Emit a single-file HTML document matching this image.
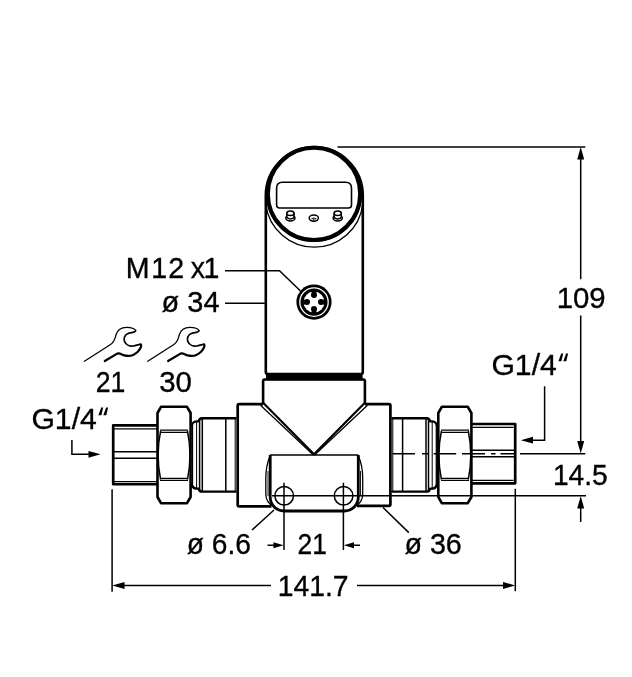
<!DOCTYPE html>
<html>
<head>
<meta charset="utf-8">
<title>Dimension drawing</title>
<style>
  html, body { margin: 0; padding: 0; background: #ffffff; }
  body { width: 632px; height: 677px; overflow: hidden; }
  svg { display: block; filter: grayscale(1); }
  text { font-family: "Liberation Sans", sans-serif; fill: #000; }
</style>
</head>
<body>
<svg width="632" height="677" viewBox="0 0 632 677">
<rect x="0" y="0" width="632" height="677" fill="#ffffff"/>

<!-- ===== SENSOR BODY ===== -->
<g id="sensor" fill="none" stroke="#000" stroke-linecap="butt" stroke-linejoin="round">
  <!-- body sides -->
  <path d="M265.8 195.6 V372 Q265.8 374 267.8 374 H360.8 Q362.8 374 362.8 372 V195.6 A48.5 48.5 0 0 0 265.8 195.6" stroke-width="2.6"/>
  <!-- thick band at body bottom -->
  <rect x="266" y="373.2" width="96.6" height="7" fill="#000" stroke="none"/>
  <!-- lower thin arcs of head -->
  <path d="M265.8 204.5 A48.9 48.9 0 0 0 362.8 204.5" stroke-width="1.4"/>
  <!-- head ring -->
  <circle cx="314" cy="193.9" r="46.1" stroke-width="4"/>
  <path d="M266.7 197 A47.4 47.4 0 0 0 361.3 197" stroke-width="1.4"/>
  <!-- display -->
  <path d="M276.6 188 Q276.6 182.2 282.6 182.2 H345.5 Q351.5 182.2 351.5 188 V205 Q351.5 208 348.5 208 H279.6 Q276.6 208 276.6 205 Z" stroke-width="1.6"/>
  <!-- buttons -->
  <g stroke-width="1.5">
    <ellipse cx="290.4" cy="217.9" rx="4.6" ry="3" fill="#fff"/>
    <path d="M286.8 213.2 V216.6 A3.6 2.3 0 0 0 294 216.6 V213.2 Z" fill="#fff"/>
    <ellipse cx="290.4" cy="213.2" rx="3.6" ry="2.3" fill="#fff"/>
    <ellipse cx="337.7" cy="217.9" rx="4.6" ry="3" fill="#fff"/>
    <path d="M334.1 213.2 V216.6 A3.6 2.3 0 0 0 341.3 216.6 V213.2 Z" fill="#fff"/>
    <ellipse cx="337.7" cy="213.2" rx="3.6" ry="2.3" fill="#fff"/>
    <ellipse cx="313.8" cy="218.1" rx="4.6" ry="3.1"/>
    <path d="M311.6 219.3 A2.3 1.9 0 0 1 316 219.3" stroke-width="1.1"/>
  </g>
  <circle cx="313.8" cy="219.9" r="0.8" fill="#000" stroke="none"/>
  <!-- M12 connector -->
  <circle cx="314" cy="302.1" r="17.6" fill="#000" stroke="none"/>
  <circle cx="314" cy="302.1" r="14.2" stroke="#fff" stroke-width="1.3"/>
  <circle cx="314" cy="302.1" r="10.5" fill="#fff" stroke="none"/>
  <g fill="#000" stroke="none">
    <circle cx="314" cy="295.1" r="3"/>
    <circle cx="314" cy="309.1" r="3"/>
    <circle cx="307" cy="302.1" r="3"/>
    <circle cx="321" cy="302.1" r="3"/>
    <rect x="311.6" y="291" width="4.8" height="2.4"/>
    <rect x="311.6" y="310.8" width="4.8" height="2.4"/>
    <rect x="303" y="299.7" width="2.4" height="4.8"/>
    <rect x="322.6" y="299.7" width="2.4" height="4.8"/>
  </g>
</g>

<!-- ===== COLLAR + BLOCK ===== -->
<g id="block" fill="none" stroke="#000" stroke-linejoin="round">
  <path d="M263.1 403 V381.2 Q263.1 379.5 264.8 379.5 H363.2 Q364.9 379.5 364.9 381.2 V403" stroke-width="2.6"/>
  <path d="M263.1 404.1 H239.2 Q237.7 404.1 237.7 405.6 V504.8 Q237.7 506.3 239.2 506.3 H271.5" stroke-width="2.7"/>
  <path d="M364.9 404.1 H388.9 Q390.4 404.1 390.4 405.6 V504.3 Q390.4 505.8 388.9 505.8 H357" stroke-width="2.7"/>
  <path d="M263.1 402.8 L314 454.3 L364.9 402.8" stroke-width="2.2"/>
  <path d="M260.5 405.3 L313.4 455 M367.5 405.3 L314.6 455" stroke-width="1.3"/>
</g>

<!-- ===== BRACKET ===== -->
<g id="bracket" fill="none" stroke="#000" stroke-linejoin="round">
  <path d="M270 455 H358.3" stroke-width="1.6"/>
  <path d="M270.2 455 V497 A14 14 0 0 0 284.2 511 H344.3 A14 14 0 0 0 358.3 497 V455" stroke-width="2.8"/>
  <path d="M270.2 455.5 Q265.8 466 265.8 478 V494 Q265.8 503 274.5 507.2" stroke-width="1.3"/>
  <path d="M268 471 V496" stroke-width="0.9"/>
  <path d="M358.3 455.5 Q362.7 466 362.7 478 V494 Q362.7 503 354 507.2" stroke-width="1.3"/>
  <path d="M360.5 471 V496" stroke-width="0.9"/>
  <circle cx="284.2" cy="495.8" r="9.3" stroke-width="1.5"/>
  <circle cx="343.6" cy="495.8" r="9.3" stroke-width="1.5"/>
</g>

<!-- ===== LEFT FITTING ===== -->
<g id="leftfit" fill="none" stroke="#000" stroke-linejoin="round">
  <!-- pipe -->
  <path d="M157 425.3 H113.2 V484.2 H157" stroke-width="2.7"/>
  <path d="M113.2 428.8 H157 M113.2 481.5 H157" stroke-width="1.2"/>
  <path d="M113.2 451.8 H157 M113.2 458.2 H157" stroke-width="1.6"/>
  <!-- nut -->
  <path d="M157.5 479.3 V413 L161 406.8 H187 L190.6 413 V497 L187 503.2 H161 L157.5 497 Z" stroke-width="2.6"/>
  <path d="M160 430.2 H188 M160 432.3 H188 M160 478.3 H188 M160 480.4 H188" stroke-width="1.3"/>
  <path d="M160.6 431 Q155.6 455 160.6 479.5 M187.5 431 Q192.5 455 187.5 479.5" stroke-width="1.5"/>
  <!-- threaded neck -->
  <path d="M191.5 426.5 Q192.3 421.6 196.4 421.4 H198.6 Q199.4 418.3 202 418.3 H236.5 M191.5 483.5 Q192.3 488.4 196.4 488.6 H198.6 Q199.4 491.6 202 491.6 H236.5" stroke-width="2.4"/>
  <path d="M192.5 424 V486" stroke-width="1.3"/>
  <path d="M196.6 421.5 V488.5 M235.2 418.5 V491.5" stroke-width="1"/>
  <path d="M199.6 419 V491 M202.3 418.5 V491.5 M225.8 418.5 V491.5" stroke-width="1.5"/>
</g>

<!-- ===== RIGHT FITTING ===== -->
<g id="rightfit" fill="none" stroke="#000" stroke-linejoin="round">
  <!-- pipe -->
  <path d="M471.5 424 H515.2 V483.3 H471.5" stroke-width="2.7"/>
  <path d="M471.5 427.3 H513.5 M471.5 480.4 H513.5" stroke-width="1.2"/>
  <path d="M471.5 450.3 H515 M471.5 456.8 H515" stroke-width="1.6"/>
  <!-- nut -->
  <path d="M438.3 479.3 V413 L441.8 406.8 H467.8 L471.4 413 V497 L467.8 503.2 H441.8 L438.3 497 Z" stroke-width="2.6"/>
  <path d="M441 430.2 H469 M441 432.3 H469 M441 478.3 H469 M441 480.4 H469" stroke-width="1.3"/>
  <path d="M441.4 431 Q436.4 455 441.4 479.5 M468.3 431 Q473.3 455 468.3 479.5" stroke-width="1.5"/>
  <!-- threaded neck -->
  <path d="M437.2 426.5 Q436.4 421.6 432.3 421.4 H430.1 Q429.3 418.3 426.7 418.3 H391.5 M437.2 483.5 Q436.4 488.4 432.3 488.6 H430.1 Q429.3 491.6 426.7 491.6 H391.5" stroke-width="2.4"/>
  <path d="M436.3 424 V486" stroke-width="1.3"/>
  <path d="M432.2 421.5 V488.5 M392.8 418.5 V491.5" stroke-width="1"/>
  <path d="M428.5 419 V491 M426 418.5 V491.5 M402.6 418.5 V491.5" stroke-width="1.5"/>
</g>

<!-- ===== DIMENSIONS / LEADERS ===== -->
<g id="dims" fill="none" stroke="#000" stroke-width="1.5">
  <!-- leaders left -->
  <path d="M225 270.8 H279.5 L300.5 291"/>
  <path d="M225 303.2 H265"/>
  <!-- top extension + 109 dim -->
  <path d="M337.5 146.9 H585.3"/>
  <path d="M580.7 158 V279.3 M580.7 315.5 V443"/>
  <!-- centre line (dash-dot) -->
  <path d="M392.5 453.7 H415 M422 453.7 H428 M433.7 453.7 H456.2 M462 453.7 H485 M491 453.7 H495.5 M500.5 453.7 H514.5 M520 453.7 H585.3" stroke-width="1.5"/>
  <!-- hole centre line / 14.5 extension -->
  <path d="M272 495.8 H586"/>
  <path d="M580.7 507 V522"/>
  <!-- hole vertical centre lines -->
  <path d="M284 482.7 V550 M343.4 482.7 V550"/>
  <path d="M267.5 545.2 H275 M352 545.2 H360"/>
  <!-- leaders for diameters -->
  <path d="M274 510 L252 530"/>
  <path d="M383 507.5 L408.8 532.6"/>
  <!-- 141.7 -->
  <path d="M112.1 489.2 V591.8 M515.3 488.8 V591.3"/>
  <path d="M122 585.4 H271 M357 585.4 H505"/>
  <!-- G1/4 arrows -->
  <path d="M71.9 440 V454.3 H90"/>
  <path d="M544.6 386.3 V440.2 H531"/>
</g>
<g id="arrows" fill="#000" stroke="none">
  <path d="M580.7 147 L584.2 159.5 H577.2 Z"/>
  <path d="M580.7 453.4 L584.2 441 H577.2 Z"/>
  <path d="M580.7 496 L584.2 508.5 H577.2 Z"/>
  <path d="M112.2 585.4 L124.5 581.9 V588.9 Z"/>
  <path d="M515.2 585.4 L503 581.9 V588.9 Z"/>
  <path d="M283.6 545.2 L273.5 542.2 V548.2 Z"/>
  <path d="M343.8 545.2 L354 542.2 V548.2 Z"/>
  <path d="M100.6 454.3 L88.5 450.9 V457.7 Z"/>
  <path d="M520.8 440.2 L533 436.8 V443.6 Z"/>
</g>

<!-- ===== WRENCH ICONS ===== -->
<g id="wrenches" fill="none" stroke="#000" stroke-linecap="round" stroke-linejoin="round">
  <g>
    <path d="M84.4 361.2 L110.2 344.8 C114.5 342 114.8 339 116 334.8 C117.5 330 121 327.4 126.5 327.4 C130.5 327.4 134.6 328.4 135.6 330.6" stroke-width="1.3"/>
    <path d="M135.6 330.6 C135.8 332.4 131 332.4 127.6 333.8 C124.5 335 123.5 338.5 124.5 341.4 C126 345.2 130 346.6 133.5 346 C136.5 345.4 139 344.2 140.6 344.4" stroke-width="1.7"/>
    <path d="M140.6 344.4 C142 345.5 140.5 349 137.5 352 C134 355.3 129 356.6 124.5 355.4 C121.5 354.5 119.8 352.8 117.2 353.6 L104.8 361" stroke-width="2.2"/>
  </g>
  <g transform="translate(63.3 0)">
    <path d="M84.4 361.2 L110.2 344.8 C114.5 342 114.8 339 116 334.8 C117.5 330 121 327.4 126.5 327.4 C130.5 327.4 134.6 328.4 135.6 330.6" stroke-width="1.3"/>
    <path d="M135.6 330.6 C135.8 332.4 131 332.4 127.6 333.8 C124.5 335 123.5 338.5 124.5 341.4 C126 345.2 130 346.6 133.5 346 C136.5 345.4 139 344.2 140.6 344.4" stroke-width="1.7"/>
    <path d="M140.6 344.4 C142 345.5 140.5 349 137.5 352 C134 355.3 129 356.6 124.5 355.4 C121.5 354.5 119.8 352.8 117.2 353.6 L104.8 361" stroke-width="2.2"/>
  </g>
</g>

<!-- ===== TEXT ===== -->
<g id="labels" font-size="29.8" opacity="0.999" stroke="#000" stroke-width="0.35">
  <text transform="translate(125.01 278.20) scale(0.9593 1)" dx="0.8 1.7 1.15 0 -1.35 -1.7">M12 x1</text>
  <text transform="translate(161.59 311.80) scale(0.9719 1)">ø 34</text>
  <text transform="translate(95.70 391.80) scale(0.8941 1)">21</text>
  <text transform="translate(159.14 391.80) scale(0.9859 1)">30</text>
  <text transform="translate(31.38 429.20) scale(1.0128 1)">G1/4</text>
  <text transform="translate(491.38 375.20) scale(1.0128 1)">G1/4</text>
  <text transform="translate(556.66 308.00) scale(0.9867 1)">109</text>
  <text transform="translate(552.89 485.40) scale(0.9446 1)">14.5</text>
  <text transform="translate(186.75 554.20) scale(0.9452 1)">ø 6.6</text>
  <text transform="translate(297.62 554.20) scale(0.8857 1)">21</text>
  <text transform="translate(404.42 554.20) scale(0.9620 1)">ø 36</text>
  <text transform="translate(277.69 595.60) scale(0.9503 1)">141.7</text>
</g>
<g id="quotes" fill="#000" stroke="none">
  <path d="M101.2 407.6 H103.2 L101.4 415.3 H98.4 Z M106.1 407.6 H108.1 L106.3 415.3 H103.3 Z"/>
  <path d="M561.2 353.6 H563.2 L561.4 361.3 H558.4 Z M566.1 353.6 H568.1 L566.3 361.3 H563.3 Z"/>
</g>
</svg>
</body>
</html>
